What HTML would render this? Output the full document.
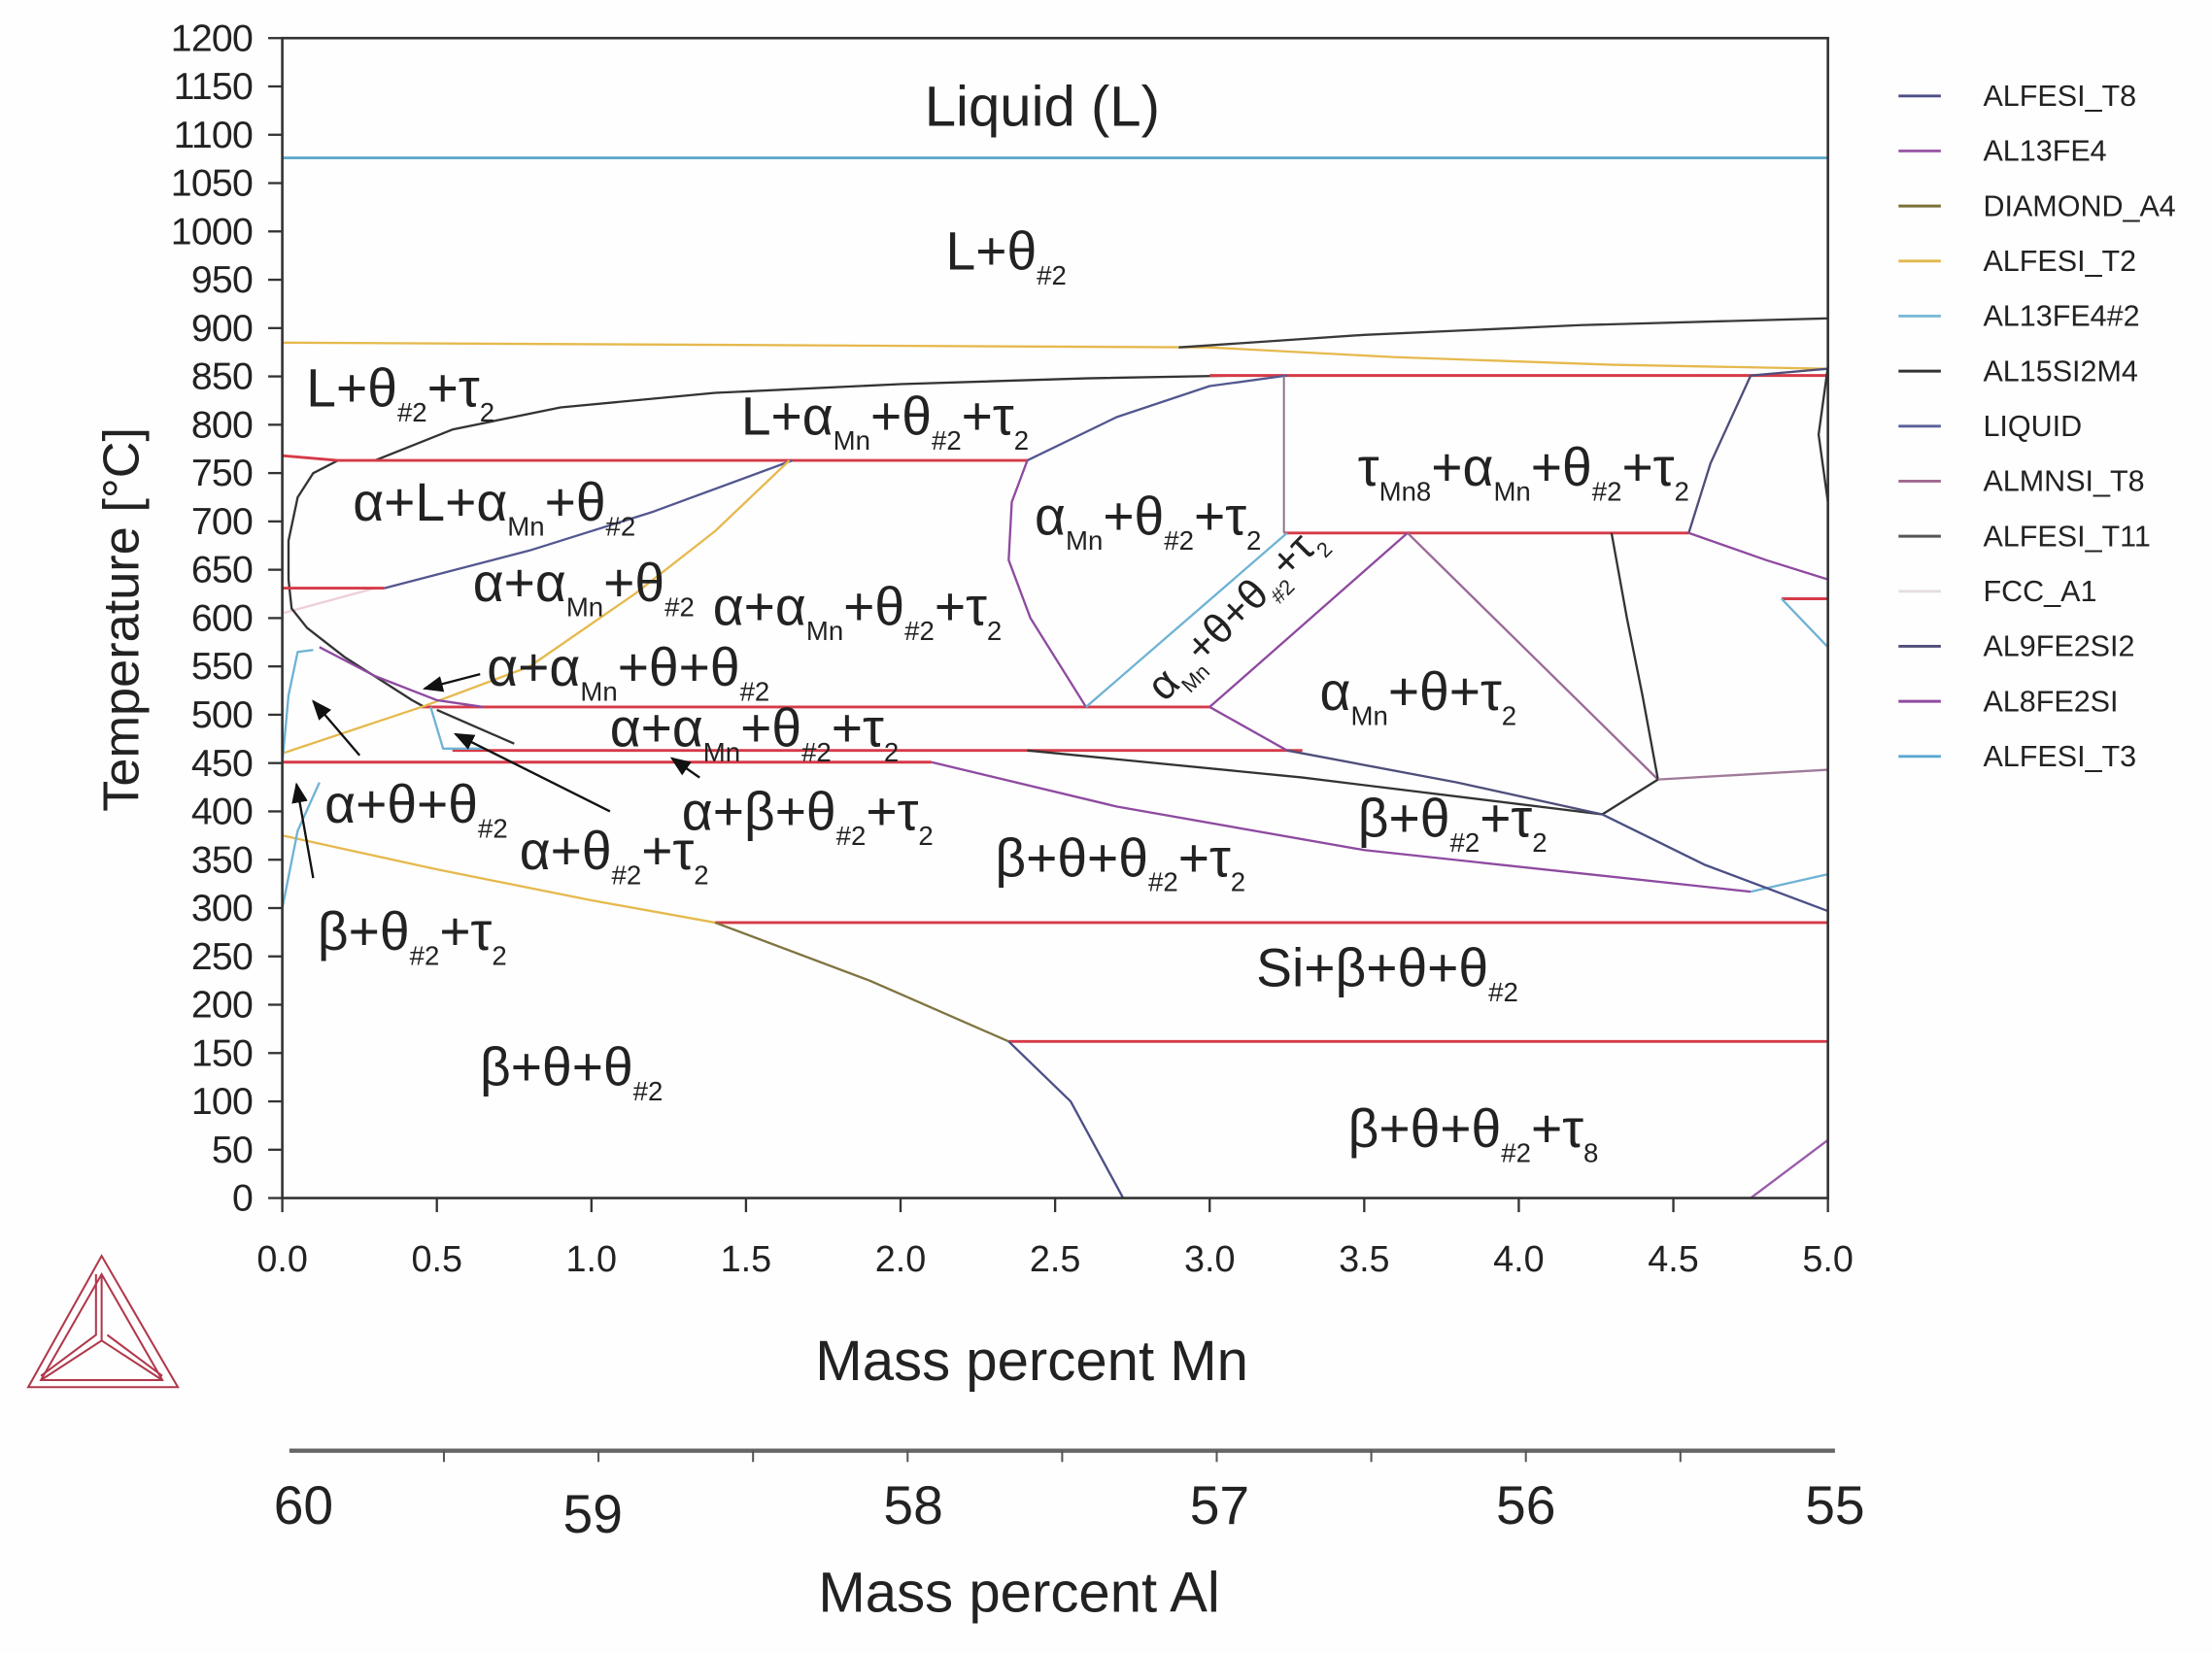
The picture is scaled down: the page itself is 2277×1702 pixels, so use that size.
<!DOCTYPE html>
<html><head><meta charset="utf-8">
<style>
html,body{margin:0;padding:0;background:#fefefe;}
svg{display:block;}
text{font-family:"Liberation Sans",Arial,sans-serif;fill:#222;}
</style></head>
<body>
<svg id="chart" width="2277" height="1702" viewBox="0 0 1567.1 1171.4" preserveAspectRatio="none" xmlns="http://www.w3.org/2000/svg">
<rect x="0" y="0" width="1567.1" height="1171.4" fill="#fefefe"/>
<g id="lines"></g>
<g id="axes"></g>
<g id="labels"></g>
<g id="legend"></g>
<g id="logo" fill="none" stroke="#b0384a" stroke-width="1.4">
  <polygon points="72,890 20,983 126,983"/>
  <polygon points="72,903 29,978 115,978"/>
  <polyline points="72,903 72,950 29,978"/>
  <polyline points="72,950 115,978"/>
  <polyline points="68,903 68,946 29,975"/>
  <polyline points="76,946 115,975"/>
</g>
</svg>
<script>
// ---- axis / data arrays ----
const tempTicks = [0,50,100,150,200,250,300,350,400,450,500,550,600,650,700,750,800,850,900,950,1000,1050,1100,1150,1200];
const mnTicks = [0,0.5,1,1.5,2,2.5,3,3.5,4,4.5,5];
const mnTickLabels = ["0.0","0.5","1.0","1.5","2.0","2.5","3.0","3.5","4.0","4.5","5.0"];
const alTicks = [60,59.5,59,58.5,58,57.5,57,56.5,56,55.5,55];
const alLabels = ["60","59","58","57","56","55"];
const alLabelValues = [60,59,58,57,56,55];
const legendNames = ["ALFESI_T8","AL13FE4","DIAMOND_A4","ALFESI_T2","AL13FE4#2","AL15SI2M4","LIQUID","ALMNSI_T8","ALFESI_T11","FCC_A1","AL9FE2SI2","AL8FE2SI","ALFESI_T3"];
const legendColors = ["#4b4f86","#9a5aa8","#7c7038","#e2b84c","#7ab8d6","#333333","#5a5f99","#a06890","#555555","#e6dede","#4e4e7a","#8e4aa0","#5aa8d0"];

// phase boundary polylines [Mn mass%, T degC]
const liquidusTop = [[0,1076],[5,1076]];
const t2Upper = [[0,885],[3.0,880],[3.6,870],[4.3,862],[5,858]];
const al15Upper = [[2.9,880],[3.5,893],[4.2,903],[5,910]];
const lTheta = [[0.3,763],[0.55,795],[0.9,818],[1.4,833],[2.0,842],[2.6,848],[3.1,851]];
const fccBound = [[0.18,763],[0.1,750],[0.05,725],[0.02,680],[0.02,640],[0.03,610],[0.08,590],[0.2,560],[0.42,515],[0.46,508]];
const inv1 = [[0,768],[0.18,763]];
const inv2 = [[0.18,763],[2.41,763]];
const inv3 = [[3.0,851],[5,851]];
const inv4 = [[3.24,688],[4.55,688]];
const inv5 = [[0,631],[0.33,631]];
const inv6 = [[0.45,508],[3.0,508]];
const inv7 = [[0.55,463],[3.3,463]];
const inv8 = [[0,451],[2.1,451]];
const inv9 = [[1.4,285],[5,285]];
const inv10 = [[2.35,162],[5,162]];
const inv11 = [[4.85,620],[5,620]];
const liqA = [[0.33,631],[0.8,670],[1.2,710],[1.65,763]];
const liqB = [[2.41,763],[2.7,808],[3.0,840],[3.25,851]];
const t2Mid = [[0,460],[0.46,509],[0.8,550],[1.14,625],[1.4,690],[1.64,763]];
const t2Low = [[0,375],[0.5,340],[1.0,308],[1.4,285]];
const diamond = [[1.4,285],[1.9,225],[2.35,162]];
const t8Low = [[2.35,162],[2.55,100],[2.72,0]];
const al8Right = [[4.75,0],[5,60]];
const almnCurve = [[2.41,763],[2.36,720],[2.35,660],[2.42,600],[2.6,508]];
const t3Diag = [[2.6,508],[3.25,688]];
const purpDiag = [[3.0,508],[3.64,688]];
const triRight = [[3.64,688],[4.45,433]];
const vertLine = [[3.24,851],[3.24,688]];
const rightUp = [[4.55,688],[4.62,760],[4.75,851],[5,858]];
const rightDown = [[4.55,688],[4.8,660],[5,640]];
const blackRight = [[4.3,688],[4.35,600],[4.4,520],[4.45,433]];
const lightRight = [[4.45,433],[5,443]];
const blackShort = [[4.45,433],[4.27,397]];
const purpShort = [[3.0,508],[3.25,463]];
const blackLong = [[2.41,463],[3.3,435],[4.27,397]];
const blueLong = [[3.25,463],[3.8,430],[4.27,397]];
const purpLong = [[2.1,451],[2.7,405],[3.5,360],[4.75,317]];
const cyanRightLow = [[4.75,317],[5,335]];
const blueRightLow = [[4.27,397],[4.6,345],[5,297]];
const cyanRightHigh = [[4.85,620],[5,570]];
const cyanLeftA = [[0,300],[0.05,380],[0.12,430]];
const cyanLeftB = [[0,450],[0.02,520],[0.05,565],[0.1,567]];
const purpSmall = [[0.12,570],[0.3,540],[0.5,515],[0.65,508]];
const cyanSmall = [[0.48,508],[0.52,465],[0.65,465]];
const blackSmall = [[0.5,505],[0.75,470]];
const arcRight = [[5,860],[4.97,790],[5,720]];
const fccPink = [[0,605],[0.3,631]];

const arrowsFrom = [[0.25,458],[0.10,331],[0.64,542],[1.06,400],[1.35,435]];
const arrowsTo = [[0.10,514],[0.046,428],[0.46,527],[0.56,480],[1.26,455]];

// ---- axis functions ----
const X0=200, X1=1295, Y0=849, Y1=27;
function xS(m){return X0+(m-0)/(5-0)*(X1-X0);}
function yS(t){return Y0-(t-0)/(1200-0)*(Y0-Y1);}
function alS(a){return 205+(60-a)/(60-55)*(1300-205);}
const NS="http://www.w3.org/2000/svg";
function mk(tag,attrs,parent){const e=document.createElementNS(NS,tag);for(const k in attrs)e.setAttribute(k,attrs[k]);parent.appendChild(e);return e;}
const gL=document.getElementById('lines'), gA=document.getElementById('axes'), gT=document.getElementById('labels'), gG=document.getElementById('legend');

function poly(pts,color,name,w){
  const p=mk('polyline',{points:pts.map(q=>xS(q[0]).toFixed(1)+','+yS(q[1]).toFixed(1)).join(' '),fill:'none',stroke:color,'stroke-width':w||1.6,'stroke-linejoin':'round'},gL);
  
  
}
const RED="#d63a48";
poly(liquidusTop,"#5fa8cc","liquidus-line",2);
poly(fccPink,"#eecfd6","fcc-boundary");
poly(t2Upper,"#e6b94e","alfesi-t2-upper");
poly(al15Upper,"#3a3a3a","al15si2m4-boundary");
poly(lTheta,"#333","l-theta-boundary");
poly(fccBound,"#333","alpha-boundary");
[inv1,inv2,inv3,inv4,inv5,inv6,inv7,inv8,inv9,inv10,inv11].forEach((s,i)=>poly(s,RED,"invariant-line-"+(i+1),2));
poly(liqA,"#53578f","liquid-boundary-a");
poly(liqB,"#53578f","liquid-boundary-b");
poly(t2Mid,"#e6b94e","alfesi-t2-mid");
poly(t2Low,"#e6b94e","alfesi-t2-low");
poly(diamond,"#7f7440","diamond-boundary");
poly(t8Low,"#4b4f86","alfesi-t8-low");
poly(al8Right,"#9a5aa8","al8fe2si-right");
poly(almnCurve,"#8e4aa0","almn-curve");
poly(t3Diag,"#6fb2d4","alfesi-t3-diagonal");
poly(purpDiag,"#8e4aa0","purple-diagonal");
poly(triRight,"#9a6a96","triangle-right-edge");
poly(vertLine,"#8a6a8a","vertical-boundary",1.3);
poly(rightUp,"#4e4e7a","right-upper-boundary");
poly(rightDown,"#8e4aa0","right-down-boundary");
poly(blackRight,"#333","black-right-boundary");
poly(lightRight,"#a07a9a","light-right-boundary");
poly(blackShort,"#333","black-short-boundary");
poly(purpShort,"#8e4aa0","purple-short-boundary");
poly(blackLong,"#333","black-long-boundary");
poly(blueLong,"#4e4e7a","blue-long-boundary");
poly(purpLong,"#8e4aa0","purple-long-boundary");
poly(cyanRightLow,"#6fb2d4","cyan-right-low");
poly(blueRightLow,"#4b4f86","blue-right-low");
poly(cyanRightHigh,"#6fb2d4","cyan-right-high");
poly(cyanLeftA,"#6fb2d4","cyan-left-a");
poly(cyanLeftB,"#6fb2d4","cyan-left-b");
poly(purpSmall,"#8e4aa0","purple-small");
poly(cyanSmall,"#6fb2d4","cyan-small");
poly(blackSmall,"#333","black-small");
poly(arcRight,"#333","right-arc");

// arrows
const defs=mk('defs',{},document.getElementById('chart'));
const mrk=mk('marker',{id:'ah',viewBox:'0 0 10 10',refX:'9',refY:'5',markerWidth:'9',markerHeight:'9',orient:'auto'},defs);
mk('path',{d:'M0,1 L10,5 L0,9 z',fill:'#111'},mrk);
arrowsFrom.forEach((f,i)=>{
  const t=arrowsTo[i];
  const a=mk('line',{x1:xS(f[0]),y1:yS(f[1]),x2:xS(t[0]),y2:yS(t[1]),stroke:'#111','stroke-width':1.6,'marker-end':'url(#ah)'},gL);
  
  
});

// axes frame
const fr=mk('rect',{x:X0,y:Y1,width:X1-X0,height:Y0-Y1,fill:'none',stroke:'#333','stroke-width':1.8},gA);


tempTicks.forEach(t=>{
  const l=mk('line',{x1:X0-10,x2:X0,y1:yS(t),y2:yS(t),stroke:'#333','stroke-width':1.6},gA);
  
  
  const tx=mk('text',{x:179,y:yS(t)+9,'text-anchor':'end','font-size':27,'letter-spacing':'-0.5'},gA);
  tx.textContent=t;
  
  
});
mnTicks.forEach((m,i)=>{
  const l=mk('line',{x1:xS(m),x2:xS(m),y1:Y0,y2:Y0+10,stroke:'#333','stroke-width':1.6},gA);
  
  
  const tx=mk('text',{x:xS(m),y:901,'text-anchor':'middle','font-size':26},gA);
  tx.textContent=mnTickLabels[i];
  
  
});
const al=mk('line',{x1:alS(60),x2:alS(55),y1:1028,y2:1028,stroke:'#666','stroke-width':3},gA);


alTicks.slice(1,-1).forEach(a=>{
  const l=mk('line',{x1:alS(a),x2:alS(a),y1:1028,y2:1036,stroke:'#555','stroke-width':1.4},gA);
  
  
});
const alDy=[0,6,0,0,0,0];
const alDx=[10,-4,4,2,0,0];
alLabelValues.forEach((a,i)=>{
  const tx=mk('text',{x:alS(a)+alDx[i],y:1080+alDy[i],'text-anchor':'middle','font-size':38},gA);
  tx.textContent=alLabels[i];
  
  
});
const tX=mk('text',{x:731,y:978,'text-anchor':'middle','font-size':40},gA);
tX.textContent='Mass percent Mn';


const tAl=mk('text',{x:722,y:1142,'text-anchor':'middle','font-size':40},gA);
tAl.textContent='Mass percent Al';


const tY=mk('text',{x:0,y:0,'text-anchor':'middle','font-size':36,transform:'translate(98,439) rotate(-90)'},gA);
tY.textContent='Temperature [°C]';



// legend
legendNames.forEach((n,i)=>{
  const y=68+i*39;
  const l=mk('line',{x1:1345,x2:1375,y1:y,y2:y,stroke:legendColors[i],'stroke-width':2},gG);
  
  
  const tx=mk('text',{x:1405,y:y+7,'font-size':21},gG);
  tx.textContent=n;
  
  
});

// phase labels
function lab(x,y,parts,name,rot,fs){
  fs=fs||38;
  const attrs={x:x,y:y,'font-size':fs};
  if(rot)attrs.transform='rotate('+rot+' '+x+' '+y+')';
  const t=mk('text',attrs,gT);
  
  
  let sub=false;
  parts.forEach(p=>{
    const ts=document.createElementNS(NS,'tspan');
    const isSub=p[1]==='s';
    if(isSub&&!sub){ts.setAttribute('dy',fs*0.28);}
    if(!isSub&&sub){ts.setAttribute('dy',-fs*0.28);}
    ts.setAttribute('font-size',isSub?fs*0.5:fs);
    ts.textContent=p[0];
    t.appendChild(ts);sub=isSub;
  });
}
lab(655,89,[["Liquid (L)","n"]],"label-liquid",0,40);
lab(670,191,[["L+θ","n"],["#2","s"]],"label-l-theta");
lab(217,288,[["L+θ","n"],["#2","s"],["+τ","n"],["2","s"]],"label-l-theta-tau");
lab(525,308,[["L+α","n"],["Mn","s"],["+θ","n"],["#2","s"],["+τ","n"],["2","s"]],"label-l-amn-theta-tau");
lab(250,369,[["α+L+α","n"],["Mn","s"],["+θ","n"],["#2","s"]],"label-a-l-amn-theta");
lab(962,344,[["τ","n"],["Mn8","s"],["+α","n"],["Mn","s"],["+θ","n"],["#2","s"],["+τ","n"],["2","s"]],"label-tmn8");
lab(733,379,[["α","n"],["Mn","s"],["+θ","n"],["#2","s"],["+τ","n"],["2","s"]],"label-amn-theta-tau");
lab(335,426,[["α+α","n"],["Mn","s"],["+θ","n"],["#2","s"]],"label-a-amn-theta");
lab(505,443,[["α+α","n"],["Mn","s"],["+θ","n"],["#2","s"],["+τ","n"],["2","s"]],"label-a-amn-theta-tau-1");
lab(825,498,[["α","n"],["Mn","s"],["+θ+θ","n"],["#2","s"],["+τ","n"],["2","s"]],"label-amn-theta-theta-tau",-45,30);
lab(345,486,[["α+α","n"],["Mn","s"],["+θ+θ","n"],["#2","s"]],"label-a-amn-theta-theta");
lab(935,503,[["α","n"],["Mn","s"],["+θ+τ","n"],["2","s"]],"label-amn-theta-tau2");
lab(432,529,[["α+α","n"],["Mn","s"],["+θ","n"],["#2","s"],["+τ","n"],["2","s"]],"label-a-amn-theta-tau-2");
lab(230,583,[["α+θ+θ","n"],["#2","s"]],"label-a-theta-theta");
lab(483,588,[["α+β+θ","n"],["#2","s"],["+τ","n"],["2","s"]],"label-a-b-theta-tau");
lab(962,593,[["β+θ","n"],["#2","s"],["+τ","n"],["2","s"]],"label-b-theta-tau-right");
lab(368,616,[["α+θ","n"],["#2","s"],["+τ","n"],["2","s"]],"label-a-theta-tau");
lab(705,621,[["β+θ+θ","n"],["#2","s"],["+τ","n"],["2","s"]],"label-b-theta-theta-tau");
lab(225,673,[["β+θ","n"],["#2","s"],["+τ","n"],["2","s"]],"label-b-theta-tau-left");
lab(890,699,[["Si+β+θ+θ","n"],["#2","s"]],"label-si-b-theta-theta");
lab(340,769,[["β+θ+θ","n"],["#2","s"]],"label-b-theta-theta");
lab(955,813,[["β+θ+θ","n"],["#2","s"],["+τ","n"],["8","s"]],"label-b-theta-theta-tau8");
</script>
</body></html>
